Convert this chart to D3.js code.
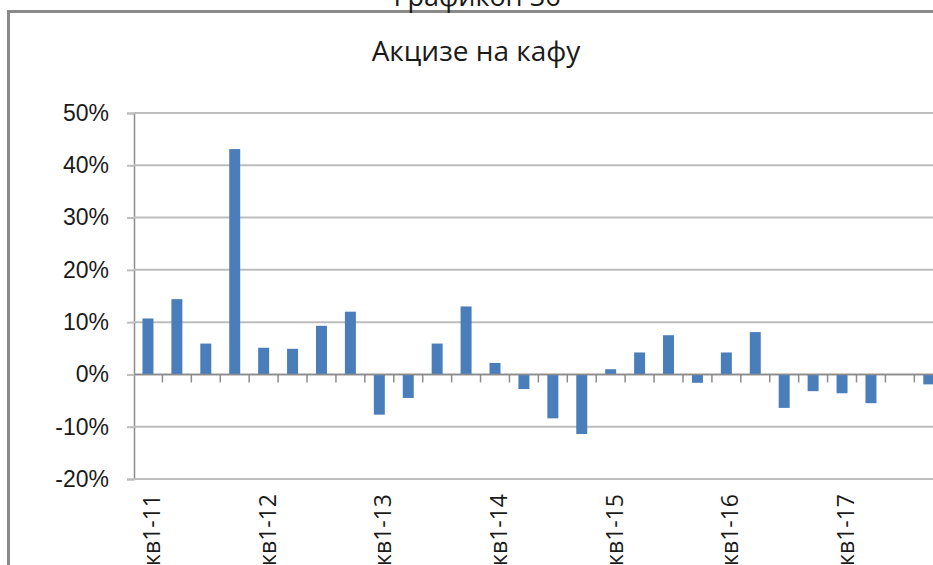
<!DOCTYPE html>
<html lang="sr">
  <head>
    <meta charset="UTF-8" />
    <title>Акцизе на кафу</title>
    <script src="https://d3js.org/d3.v7.min.js"></script>
    <style>
      body { margin: 0; background: #fff; }
      svg { display: block; font-family: "Open Sans", sans-serif; }
    </style>
  </head>
  <body>
    <svg width="933" height="565"></svg>
    <script>
      // Quarterly categories, 2011-2017
      const years = ["11", "12", "13", "14", "15", "16", "17"];
      const quarters = ["кв1", "кв2", "кв3", "кв4"];
      const categories = years.flatMap((y) => quarters.map((q) => q + "-" + y));

      // Year-on-year change, %
      const values = [
        10.7, 14.4, 5.9, 43.1, 5.1, 4.9, 9.3, 12.0,
        -7.7, -4.5, 5.9, 13.0, 2.2, -2.8, -8.4, -11.4,
        1.0, 4.2, 7.5, -1.6, 4.2, 8.1, -6.4, -3.2,
        -3.6, -5.5, null, -1.9,
      ];

      const yTicks = [-20, -10, 0, 10, 20, 30, 40, 50];

      const svg = d3.select("svg");

      // Outer frame of the chart
      svg.append("rect")
        .attr("x", 8.5).attr("y", 11.5)
        .attr("width", 940).attr("height", 580)
        .attr("fill", "none")
        .attr("stroke", "#8a8a8a")
        .attr("stroke-width", 3);

      svg.append("text")
        .attr("x", 477).attr("y", 6)
        .attr("text-anchor", "middle")
        .style("font-size", "27px")
        .attr("fill", "#1a1a1a")
        .text("Графикон 36");

      svg.append("text")
        .attr("x", 476).attr("y", 61)
        .attr("text-anchor", "middle")
        .style("font-size", "28px")
        .attr("fill", "#1a1a1a")
        .text("Акцизе на кафу");

      const x = d3.scaleBand()
        .domain(categories)
        .range([133.5, 133.5 + categories.length * 28.92])
        .paddingInner(0.62)
        .paddingOuter(0.31);

      const y = d3.scaleLinear().domain([-20, 50]).range([479, 113]);

      // Gridlines and y axis
      const yAxis = svg.append("g")
        .attr("transform", "translate(134,0)")
        .call(d3.axisLeft(y).tickValues(yTicks).tickSize(7).tickPadding(18)
          .tickFormat((d) => d + "%"));
      yAxis.select(".domain").attr("stroke", "#8c8c8c").attr("stroke-width", 1.5);
      yAxis.selectAll(".tick line").attr("stroke", "#bdbdbd").attr("stroke-width", 2);
      yAxis.selectAll(".tick text")
        .style("font-size", "23px").attr("fill", "#1a1a1a");

      svg.append("g")
        .selectAll("line")
        .data(yTicks)
        .join("line")
        .attr("x1", 134).attr("x2", 933)
        .attr("y1", (d) => y(d)).attr("y2", (d) => y(d))
        .attr("stroke", "#bdbdbd")
        .attr("stroke-width", 2);

      // Bars
      svg.append("g")
        .selectAll("rect")
        .data(values.map((v, i) => ({ c: categories[i], v })).filter((d) => d.v !== null))
        .join("rect")
        .attr("x", (d) => x(d.c))
        .attr("width", x.bandwidth())
        .attr("y", (d) => y(Math.max(0, d.v)))
        .attr("height", (d) => Math.abs(y(d.v) - y(0)))
        .attr("fill", "#4a7ebb");

      // Category axis crossing at zero, labels at the bottom
      svg.append("line")
        .attr("x1", 134).attr("x2", 933)
        .attr("y1", y(0)).attr("y2", y(0))
        .attr("stroke", "#8c8c8c")
        .attr("stroke-width", 1.5);

      svg.append("g")
        .selectAll("line")
        .data(categories.slice(1))
        .join("line")
        .attr("x1", (d) => x(d) - x.step() * x.paddingInner() / 2)
        .attr("x2", (d) => x(d) - x.step() * x.paddingInner() / 2)
        .attr("y1", y(0)).attr("y2", y(0) + 8)
        .attr("stroke", "#8c8c8c")
        .attr("stroke-width", 1.5);

      svg.append("g")
        .selectAll("text")
        .data(categories.filter((d, i) => i % 4 === 0))
        .join("text")
        .attr("transform", (d) => `translate(${x(d) + x.bandwidth() / 2 + 4},494) rotate(-90)`)
        .attr("text-anchor", "end")
        .attr("dy", "0.35em")
        .style("font-size", "23px")
        .attr("fill", "#1a1a1a")
        .text((d) => d);
    </script>
  </body>
</html>
